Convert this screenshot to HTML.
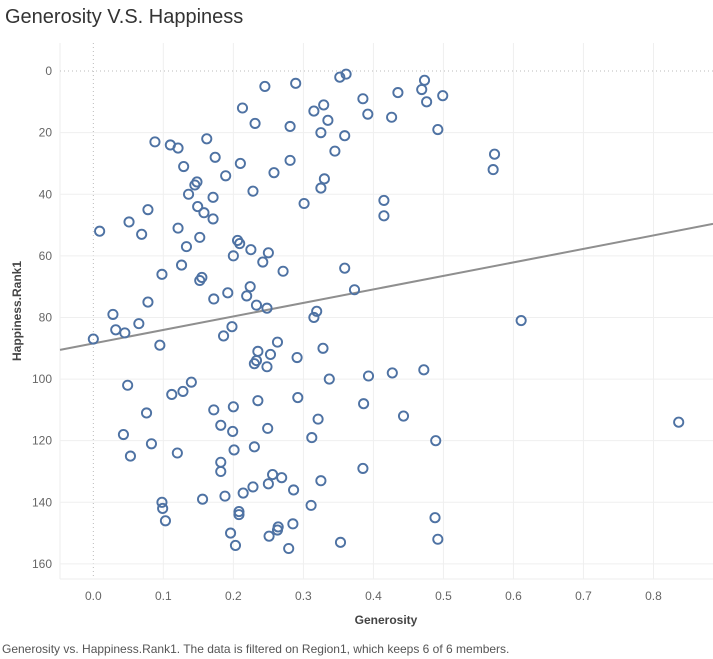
<!DOCTYPE html>
<html><head><meta charset="utf-8">
<style>
body{margin:0;background:#fff;width:713px;height:659px;overflow:hidden;font-family:"Liberation Sans",sans-serif;}
#title{position:absolute;left:5px;top:6px;font-size:20px;color:#333;}
#caption{position:absolute;left:2px;top:642px;font-size:12px;color:#555;white-space:nowrap;}
svg{position:absolute;left:0;top:0;}
</style></head>
<body>
<div id="title">Generosity V.S. Happiness</div>
<svg id="chart" width="713" height="659"></svg>
<div id="caption">Generosity vs. Happiness.Rank1. The data is filtered on Region1, which keeps 6 of 6 members.</div>
<script>
const generosity = [0.088,0.110,0.121,0.162,0.174,0.129,0.189,0.213,0.210,0.148,0.145,0.136,0.171,0.078,0.149,0.158,0.171,0.051,0.009,0.069,0.121,0.152,0.133,0.206,0.209,0.200,0.126,0.098,0.155,0.152,0.172,0.192,0.078,0.028,0.065,0.198,
0.352,0.361,0.245,0.289,0.385,0.435,0.315,0.329,0.335,0.392,0.426,0.231,0.281,0.325,0.359,0.345,0.258,0.281,0.330,0.325,0.228,0.301,0.415,0.415,0.225,0.250,0.242,0.271,0.359,0.373,0.224,0.219,0.233,0.248,0.319,0.315,
0.473,0.469,0.499,0.476,0.492,0.573,0.571,0.611,
0.000,0.032,0.045,0.095,0.186,0.049,0.112,0.128,0.140,0.172,0.200,0.076,0.182,0.199,0.043,0.083,0.053,0.120,0.201,0.182,0.182,0.156,0.188,0.214,0.098,0.099,0.103,0.208,0.208,0.196,0.203,
0.263,0.235,0.253,0.233,0.230,0.248,0.291,0.328,0.337,0.393,0.427,0.235,0.292,0.386,0.443,0.321,0.249,0.312,0.230,0.385,0.256,0.269,0.250,0.228,0.286,0.325,0.311,0.285,0.264,0.263,0.251,0.279,0.353,
0.472,0.489,0.836,0.488,0.492];
const happinessRank = [23,24,25,22,28,31,34,12,30,36,37,40,41,45,44,46,48,49,52,53,51,54,57,55,56,60,63,66,67,68,74,72,75,79,82,83,
2,1,5,4,9,7,13,11,16,14,15,17,18,20,21,26,33,29,35,38,39,43,42,47,58,59,62,65,64,71,70,73,76,77,78,80,
3,6,8,10,19,27,32,81,
87,84,85,89,86,102,105,104,101,110,109,111,115,117,118,121,125,124,123,127,130,139,138,137,140,142,146,143,144,150,154,
88,91,92,94,95,96,93,90,100,99,98,107,106,108,112,113,116,119,122,129,131,132,134,135,136,133,141,147,148,149,151,155,153,
97,120,114,145,152];
const xTicks = [0.0,0.1,0.2,0.3,0.4,0.5,0.6,0.7,0.8];
const yTicks = [0,20,40,60,80,100,120,140,160];

const NS="http://www.w3.org/2000/svg";
const svg=document.getElementById('chart');
const L=60,R=713,T=43,B=579;
const xMin=-0.0476,xMax=0.885,yMin=-9.1,yMax=164.9;
function sx(v){return L+(v-xMin)/(xMax-xMin)*(R-L);}
function sy(v){return T+(v-yMin)/(yMax-yMin)*(B-T);}
function mk(tag,attrs){const e=document.createElementNS(NS,tag);for(const k in attrs)e.setAttribute(k,attrs[k]);svg.appendChild(e);return e;}

// plot frame lines
let e=mk('line',{x1:L,x2:L,y1:T,y2:B,stroke:'#eee','stroke-width':1});


e=mk('line',{x1:L,x2:R,y1:B,y2:B,stroke:'#eee','stroke-width':1});



xTicks.forEach(t=>{
  const x=sx(t);
  const g=mk('line',{x1:x,x2:x,y1:T,y2:B,stroke:t===0?'#bbb':'#efefef','stroke-width':1,'stroke-dasharray':t===0?'1,3':'none'});
  
  
  const tx=mk('text',{x:x,y:600,'text-anchor':'middle','font-size':12,fill:'#666','font-family':'Liberation Sans, sans-serif'});
  tx.textContent=t.toFixed(1);
  
  
});
yTicks.forEach(t=>{
  const y=sy(t);
  const g=mk('line',{x1:L,x2:R,y1:y,y2:y,stroke:t===0?'#bbb':'#efefef','stroke-width':1,'stroke-dasharray':t===0?'1,3':'none'});
  
  
  const tx=mk('text',{x:52,y:y+4,'text-anchor':'end','font-size':12,fill:'#666','font-family':'Liberation Sans, sans-serif'});
  tx.textContent=t;
  
  
});

// trend line (least squares)
const n=generosity.length;
let mx=0,my=0;for(let i=0;i<n;i++){mx+=generosity[i];my+=happinessRank[i];}mx/=n;my/=n;
let sxy=0,sxx=0;for(let i=0;i<n;i++){sxy+=(generosity[i]-mx)*(happinessRank[i]-my);sxx+=(generosity[i]-mx)**2;}
const slope=sxy/sxx,icpt=my-slope*mx;
const tl=mk('line',{x1:sx(xMin),y1:sy(icpt+slope*xMin),x2:sx(xMax),y2:sy(icpt+slope*xMax),stroke:'#8f8f8f','stroke-width':2});



for(let i=0;i<n;i++){
  const c=mk('circle',{cx:sx(generosity[i]),cy:sy(happinessRank[i]),r:4.6,fill:'none',stroke:'#4e72a3','stroke-width':1.9});
  
  
}

const xt=mk('text',{x:386,y:624,'text-anchor':'middle','font-size':12,'font-weight':'bold',fill:'#444','font-family':'Liberation Sans, sans-serif'});
xt.textContent='Generosity';


const yt=mk('text',{x:0,y:0,'text-anchor':'middle','font-size':12,'font-weight':'bold',fill:'#444','font-family':'Liberation Sans, sans-serif',transform:'translate(21,311) rotate(-90)'});
yt.textContent='Happiness.Rank1';


</script>
</body></html>
